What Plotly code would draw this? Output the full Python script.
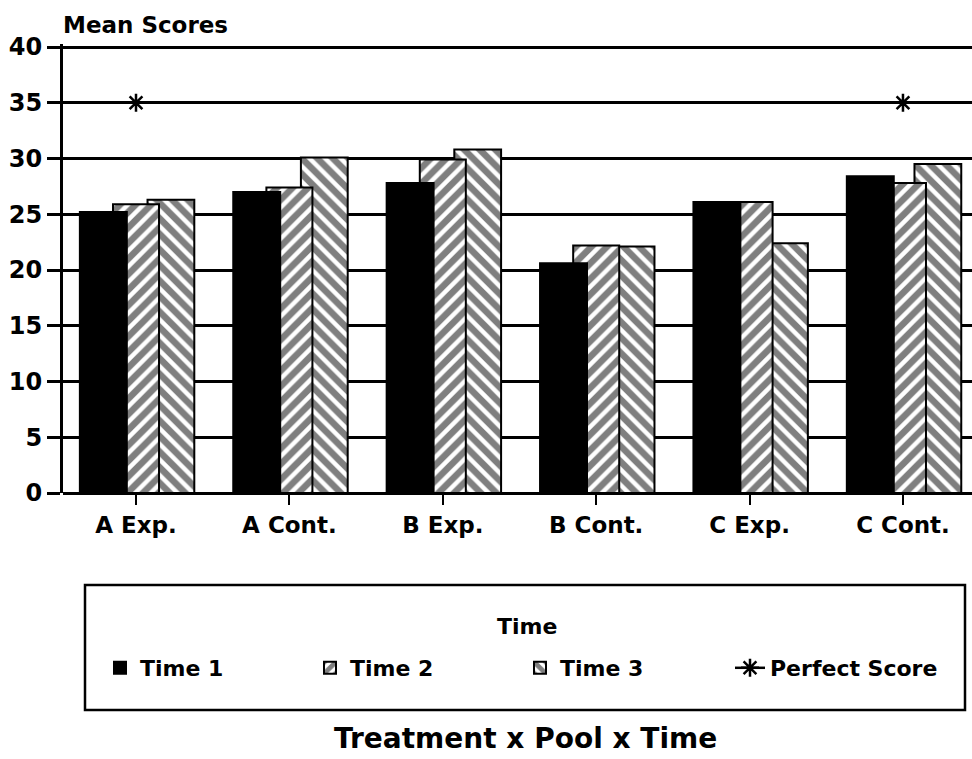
import plotly.graph_objects as go

categories = ["A Exp.", "A Cont.", "B Exp.", "B Cont.", "C Exp.", "C Cont."]
time1 = [25.2, 27.0, 27.8, 20.6, 26.1, 28.4]
time2 = [25.9, 27.4, 29.9, 22.2, 26.1, 27.8]
time3 = [26.3, 30.1, 30.8, 22.1, 22.4, 29.5]
perfect_categories = ["A Exp.", "C Cont."]
perfect_scores = [35, 35]
y_ticks = [0, 5, 10, 15, 20, 25, 30, 35, 40]

FONT = "DejaVu Sans"
W, H = 972, 759
L, R, T, B = 63, 0, 44, 266
pw = W - L - R
ph = H - T - B
y_top = 40 * ph / (493 - 47)

def px_x(x):
    return (x - L) / pw

def px_y(y):
    return (H - B - y) / ph

fig = go.Figure()

# draw back to front: Time 3, Time 2, Time 1
fig.add_trace(go.Bar(
    name="Time 3", x=categories, y=time3, offset=0.075, width=0.305,
    marker=dict(color="white", line=dict(color="black", width=2),
                pattern=dict(shape="\\", fgcolor="black", bgcolor="white", size=11, solidity=0.6)),
    legendrank=3,
))
fig.add_trace(go.Bar(
    name="Time 2", x=categories, y=time2, offset=-0.15, width=0.30,
    marker=dict(color="white", line=dict(color="black", width=2),
                pattern=dict(shape="/", fgcolor="black", bgcolor="white", size=11, solidity=0.6)),
    legendrank=2,
))
fig.add_trace(go.Bar(
    name="Time 1", x=categories, y=time1, offset=-0.366, width=0.306,
    marker=dict(color="black", line=dict(color="black", width=2)),
    legendrank=1,
))
fig.add_trace(go.Scatter(
    name="Perfect Score", x=perfect_categories, y=perfect_scores, mode="lines+markers",
    line=dict(color="black", width=2.5),
    marker=dict(symbol="asterisk-open", size=15, color="black", line=dict(color="black", width=2.5)),
    legendrank=4,
))

fig.update_layout(
    width=W, height=H, autosize=False,
    margin=dict(l=L, r=R, t=T, b=B, pad=0),
    paper_bgcolor="white", plot_bgcolor="white",
    barmode="overlay",
    font=dict(family=FONT, color="black", size=20, weight="bold"),
    showlegend=True,
    legend=dict(
        orientation="h", x=px_x(100), xanchor="left", y=px_y(668), yanchor="middle",
        entrywidth=165, entrywidthmode="pixels",
        font=dict(family=FONT, size=22, weight="bold"),
        bgcolor="rgba(0,0,0,0)", borderwidth=0, traceorder="normal",
    ),
    xaxis=dict(
        type="category", range=[-0.476, 5.45],
        showgrid=False, showline=False, zeroline=False,
        ticks="outside", ticklen=11, tickwidth=2, tickcolor="black",
        tickfont=dict(family=FONT, size=23, weight="bold"),
        fixedrange=True,
    ),
    yaxis=dict(
        range=[0, y_top], tickvals=y_ticks,
        showgrid=True, gridcolor="black", gridwidth=2.5,
        zeroline=True, zerolinecolor="black", zerolinewidth=3,
        showline=True, linecolor="black", linewidth=3,
        ticks="outside", ticklen=13, tickwidth=2.5, tickcolor="black",
        tickfont=dict(family=FONT, size=24, weight="bold"),
        fixedrange=True,
    ),
    shapes=[dict(
        type="rect", xref="paper", yref="paper",
        x0=px_x(85), x1=px_x(965), y0=px_y(710), y1=px_y(585),
        line=dict(color="black", width=2.5), fillcolor="rgba(0,0,0,0)", layer="above",
    )],
    annotations=[
        dict(text="Mean Scores", xref="paper", yref="paper", x=px_x(61), y=px_y(25),
             xanchor="left", yanchor="middle", showarrow=False,
             font=dict(family=FONT, size=23, weight="bold")),
        dict(text="Time", xref="paper", yref="paper", x=px_x(527), y=px_y(626),
             xanchor="center", yanchor="middle", showarrow=False,
             font=dict(family=FONT, size=22, weight="bold")),
        dict(text="Treatment x Pool x Time", xref="paper", yref="paper", x=px_x(525), y=px_y(738),
             xanchor="center", yanchor="middle", showarrow=False,
             font=dict(family=FONT, size=28, weight="bold")),
    ],
)

fig.write_html("out.html", config={"displayModeBar": False},
               post_script="document.body.style.margin='0';document.body.style.overflow='hidden';")
